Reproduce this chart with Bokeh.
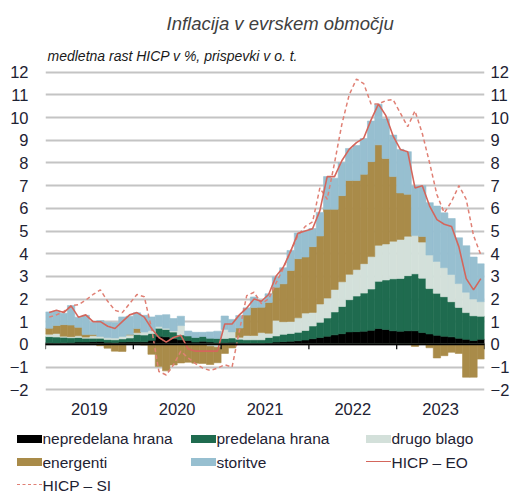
from bokeh.plotting import figure
from bokeh.layouts import column
from bokeh.models import (Range1d, LinearAxis, FixedTicker, Span, Title, Div)
from bokeh.embed import file_html
from bokeh.resources import INLINE

# ---------------- data (monthly, Jan 2019 - Dec 2023) ----------------
years = ["2019", "2020", "2021", "2022", "2023"]

nepredelana_hrana = [
    0.07, 0.06, 0.07, 0.08, 0.10, 0.10, 0.12, 0.13, 0.09, 0.08, 0.10, 0.11,
    0.11, 0.11, 0.18, 0.36, 0.33, 0.25, 0.20, 0.17, 0.10, 0.14, 0.10, 0.08,
    0.08, 0.09, 0.04, 0.02, 0.04, 0.04, 0.06, 0.10, 0.12, 0.14, 0.16, 0.19,
    0.25, 0.30, 0.36, 0.42, 0.47, 0.55, 0.56, 0.58, 0.62, 0.70, 0.66, 0.60,
    0.58, 0.60, 0.60, 0.52, 0.46, 0.40, 0.36, 0.33, 0.27, 0.22, 0.17, 0.22]

predelana_hrana = [
    0.27, 0.26, 0.24, 0.21, 0.20, 0.17, 0.15, 0.14, 0.12, 0.12, 0.14, 0.17,
    0.32, 0.30, 0.30, 0.35, 0.33, 0.29, 0.21, 0.20, 0.20, 0.21, 0.17, 0.18,
    0.18, 0.19, 0.19, 0.18, 0.16, 0.16, 0.24, 0.27, 0.32, 0.34, 0.37, 0.42,
    0.56, 0.67, 0.80, 1.01, 1.20, 1.42, 1.57, 1.68, 1.82, 2.08, 2.18, 2.29,
    2.33, 2.43, 2.51, 2.40, 2.00, 1.85, 1.74, 1.55, 1.36, 1.18, 1.09, 1.02]

drugo_blago = [
    0.11, 0.16, 0.05, 0.05, 0.08, 0.05, 0.11, 0.08, 0.08, 0.08, 0.11, 0.13,
    0.08, 0.13, 0.13, 0.08, 0.05, 0.05, 0.42, -0.03, -0.03, -0.03, -0.08, -0.13,
    0.40, 0.27, 0.08, 0.19, 0.19, 0.32, 0.19, 0.69, 0.56, 0.53, 0.64, 0.77,
    0.60, 0.81, 0.88, 0.99, 1.09, 1.12, 1.17, 1.30, 1.43, 1.59, 1.59, 1.66,
    1.72, 1.74, 1.69, 1.59, 1.48, 1.41, 1.28, 1.20, 1.05, 0.90, 0.74, 0.64]

energenti = [
    0.26, 0.35, 0.51, 0.51, 0.37, 0.11, 0.05, -0.06, -0.17, -0.30, -0.31, 0.02,
    0.19, -0.03, -0.44, -0.98, -1.17, -0.91, -0.82, -0.76, -0.80, -0.81, -0.81, -0.68,
    -0.40, -0.16, 0.41, 0.90, 1.24, 1.12, 1.36, 1.46, 1.67, 2.25, 2.61, 2.47,
    2.90, 3.00, 3.92, 3.54, 3.80, 4.14, 3.93, 3.94, 4.19, 4.43, 3.77, 2.85,
    2.05, 1.85, -0.09, 0.25, -0.15, -0.60, -0.50, -0.35, -0.40, -1.45, -1.45, -0.65]

storitve = [
    0.72, 0.63, 0.50, 0.86, 0.45, 0.85, 0.54, 0.70, 0.68, 0.68, 0.86, 0.81,
    0.69, 0.74, 0.60, 0.49, 0.60, 0.55, 0.41, 0.22, 0.23, 0.18, 0.28, 0.32,
    0.59, 0.55, 0.55, 0.32, 0.46, 0.29, 0.38, 0.46, 0.71, 0.88, 1.13, 1.15,
    0.80, 1.04, 1.44, 1.37, 1.46, 1.41, 1.54, 1.58, 1.79, 1.79, 1.75, 1.83,
    1.92, 1.88, 2.19, 2.24, 2.31, 2.44, 2.42, 2.47, 2.02, 2.05, 1.85, 1.67]

hicp_eo = [
    1.4, 1.5, 1.4, 1.7, 1.2, 1.3, 1.0, 1.0, 0.8, 0.7, 1.0, 1.3,
    1.4, 1.2, 0.7, 0.3, 0.1, 0.3, 0.4, -0.2, -0.3, -0.3, -0.3, -0.3,
    0.9, 0.9, 1.3, 1.6, 2.0, 1.9, 2.2, 3.0, 3.4, 4.1, 4.9, 5.0,
    5.1, 5.9, 7.4, 7.4, 8.1, 8.6, 8.9, 9.1, 9.9, 10.6, 10.1, 9.2,
    8.6, 8.5, 6.9, 7.0, 6.1, 5.5, 5.3, 5.2, 4.3, 2.9, 2.4, 2.9]

hicp_si = [
    1.2, 1.3, 1.45, 1.7, 1.75, 1.95, 2.2, 2.4, 1.9, 1.5, 1.4, 1.8,
    2.2, 2.1, 0.7, -1.2, -1.35, -0.9, -0.3, -0.6, -0.85, -1.05, -1.15, -1.05,
    -0.9, -1.0, 0.6, 2.15, 2.3, 1.8, 2.0, 2.7, 3.35, 4.1, 4.8, 5.2,
    5.4, 6.9, 6.4, 8.0, 9.7, 11.0, 11.7, 11.5, 10.6, 10.6, 10.75, 10.8,
    10.2, 9.6, 10.3, 9.3, 8.0, 6.6, 5.8, 6.3, 7.0, 6.4, 4.8, 3.95]

components = [
    ("nepredelana hrana", nepredelana_hrana, "#000000"),
    ("predelana hrana", predelana_hrana, "#1f6b4f"),
    ("drugo blago", drugo_blago, "#d3e0da"),
    ("energenti", energenti, "#a98b49"),
    ("storitve", storitve, "#97bfd0"),
]
eo_label, eo_color = "HICP – EO", "#d4665c"
si_label, si_color = "HICP – SI", "#e08075"

n = len(hicp_eo)
xs = [i + 0.5 for i in range(n)]

# ---------------- main figure ----------------
p = figure(width=512, height=417, output_backend="svg", toolbar_location=None,
           x_range=Range1d(0, n), y_range=Range1d(-2.08, 12.08),
           min_border_left=45, min_border_right=24, min_border_top=70,
           min_border_bottom=0)
p.outline_line_color = None
p.background_fill_color = "white"
p.border_fill_color = "white"

tick_font = "'Liberation Sans', Arial, sans-serif"
tick_color = "#1e2233"
tick_size = "16.5px"


def style_axis(ax, standoff):
    ax.axis_line_color = None
    ax.major_tick_line_color = None
    ax.minor_tick_line_color = None
    ax.major_tick_out = 0
    ax.major_tick_in = 0
    ax.minor_tick_out = 0
    ax.minor_tick_in = 0
    ax.major_label_standoff = standoff
    ax.major_label_text_font = tick_font
    ax.major_label_text_font_size = tick_size
    ax.major_label_text_color = tick_color


p.xaxis.ticker = FixedTicker(ticks=[12 * k + 6 for k in range(len(years))])
p.xaxis.major_label_overrides = {12 * k + 6: y for k, y in enumerate(years)}
style_axis(p.xaxis[0], 11)

yticks = list(range(-2, 13))
p.yaxis.ticker = FixedTicker(ticks=yticks)
style_axis(p.yaxis[0], 17)

ry = LinearAxis(ticker=FixedTicker(ticks=yticks))
style_axis(ry, 6)
p.add_layout(ry, "right")

p.xgrid.grid_line_color = None
p.ygrid.ticker = FixedTicker(ticks=yticks)
p.ygrid.grid_line_color = "#c4c4c4"
p.ygrid.grid_line_width = 2

pos_base = [0.0] * n
neg_base = [0.0] * n
for name, vals, col in components:
    pb, pt, nb, nt = [], [], [], []
    for i, v in enumerate(vals):
        if v >= 0:
            pb.append(pos_base[i]); pt.append(pos_base[i] + v); pos_base[i] += v
            nb.append(0.0); nt.append(0.0)
        else:
            nb.append(neg_base[i]); nt.append(neg_base[i] + v); neg_base[i] += v
            pb.append(0.0); pt.append(0.0)
    p.vbar(x=xs, width=1.0, bottom=pb, top=pt, fill_color=col,
           line_color=col, line_width=0.6)
    p.vbar(x=xs, width=1.0, bottom=nb, top=nt, fill_color=col,
           line_color=col, line_width=0.6)

p.add_layout(Span(location=0, dimension="width", line_color="black", line_width=1.6))
bounds = [12 * k for k in range(len(years) + 1)]
p.segment(x0=bounds, y0=[0] * len(bounds), x1=bounds, y1=[-0.22] * len(bounds),
          line_color="black", line_width=1.2)

p.line(xs, hicp_si, line_color=si_color, line_width=1.5, line_dash="4 3")
p.line(xs, hicp_eo, line_color=eo_color, line_width=1.6)

sub = Title(text="medletna rast HICP v %, prispevki v o. t.", align="left", offset=2,
            text_font="'Liberation Sans Narrow', 'Arial Narrow', 'Liberation Sans', sans-serif",
            text_font_size="14px", text_font_style="italic", text_color="#1a1a1a",
            standoff=14)
p.add_layout(sub, "above")
main = Title(text="Inflacija v evrskem območju", align="left", offset=121,
             text_font="'Liberation Sans', Arial, sans-serif", text_font_size="18.5px",
             text_font_style="italic", text_color="#404040", standoff=9)
p.add_layout(main, "above")

# ---------------- legend (HTML, below the chart) ----------------
legend_rows = [
    [("box", components[0][0], components[0][2]),
     ("box", components[1][0], components[1][2]),
     ("box", components[2][0], components[2][2])],
    [("box", components[3][0], components[3][2]),
     ("box", components[4][0], components[4][2]),
     ("solid", eo_label, eo_color)],
    [("dashed", si_label, si_color)],
]
col_left = [16.5, 190.5, 365.5]
row_center = [21.5, 45.0, 68.0]

parts = []
for r, row in enumerate(legend_rows):
    cy = row_center[r]
    for c, (kind, label, color) in enumerate(row):
        x0 = col_left[c]
        if kind == "box":
            parts.append(
                f'<span style="position:absolute;left:{x0}px;top:{cy - 4}px;width:25px;'
                f'height:8px;background:{color};"></span>')
        else:
            parts.append(
                f'<span style="position:absolute;left:{x0}px;top:{cy - 0.8}px;width:25px;'
                f'height:0;border-top:1.6px {kind} {color};"></span>')
        parts.append(
            f'<span style="position:absolute;left:{x0 + 26}px;top:{cy - 9.5}px;'
            f'line-height:19px;white-space:nowrap;">{label}</span>')

legend_html = (
    '<div style="position:relative;width:512px;height:78px;'
    "font-family:'Liberation Sans',Arial,sans-serif;font-size:15.5px;color:#1e2233;\">"
    + "".join(parts) + "</div>")
legend_div = Div(text=legend_html, width=512, height=78, margin=(0, 0, 0, 0))

layout = column(p, legend_div, spacing=0)
open("out.html", "w").write(file_html(layout, INLINE))
